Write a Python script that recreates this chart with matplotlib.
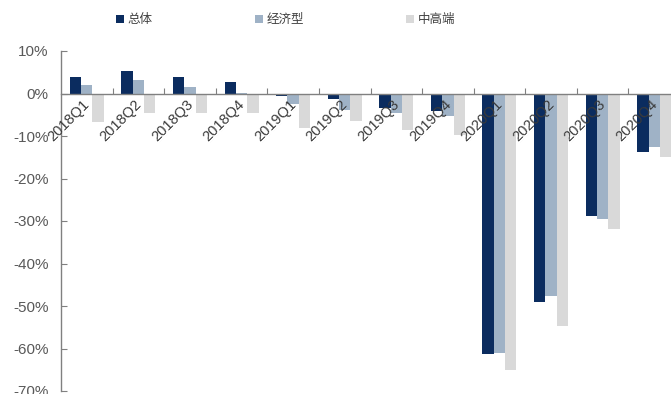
import matplotlib
matplotlib.use("Agg")
import matplotlib.pyplot as plt
import numpy as np
from matplotlib.ticker import FuncFormatter, FixedLocator

plt.rcParams['font.family'] = ['Liberation Sans', 'Noto Sans CJK SC', 'DejaVu Sans']

# quarterly growth, %
quarters = ["2018Q1", "2018Q2", "2018Q3", "2018Q4",
            "2019Q1", "2019Q2", "2019Q3", "2019Q4",
            "2020Q1", "2020Q2", "2020Q3", "2020Q4"]
total    = [4.0, 5.4, 4.0, 2.6, -0.6, -1.4, -3.5, -4.2, -61.3, -49.1, -28.8, -13.7]
economy  = [2.1, 3.1, 1.6, 0.2, -2.4, -3.8, -4.5, -5.4, -61.0, -47.6, -29.5, -12.7]
midhigh  = [-6.6, -4.7, -4.5, -4.7, -8.0, -6.5, -8.5, -9.7, -65.0, -54.7, -31.8, -15.0]

series_names = ["总体", "经济型", "中高端"]
colors = ["#0b2c5f", "#9fb2c6", "#d9d9d9"]

fig = plt.figure(figsize=(6.71, 3.94), dpi=100)
# axes run a bit past the right edge, so the last group is clipped
ax = fig.add_axes([61 / 671, 3 / 394, 619 / 671, 340 / 394])

x = np.arange(len(quarters))
w = 0.22
for vals, off, c, name in zip([total, economy, midhigh], [-w, 0, w], colors, series_names):
    ax.bar(x + off, vals, width=w, color=c, label=name, zorder=3)

ax.set_xlim(-0.5, len(quarters) - 0.5)
ax.set_ylim(-70, 10)
ax.set_yticks(np.arange(-70, 11, 10))
ax.yaxis.set_major_formatter(FuncFormatter(lambda v, p: f"{v:.0f}%"))

ax.spines['top'].set_visible(False)
ax.spines['right'].set_visible(False)
ax.spines['bottom'].set_position(('data', 0))
for s in ('left', 'bottom'):
    ax.spines[s].set_color('#808080')
    ax.spines[s].set_linewidth(1.0)
    ax.spines[s].set_zorder(4)

ax.tick_params(axis='y', direction='in', length=4, color='#808080',
               labelsize=11, labelcolor='#595959', pad=9)
ax.xaxis.set_major_locator(FixedLocator(x[1:] - 0.5))
ax.tick_params(axis='x', direction='in', length=4, color='#808080', labelbottom=False)

# category labels hang from the zero line, over the bars
for xi, q in zip(x, quarters):
    ax.text(xi - 0.08, -0.8, q, rotation=45, ha='right', va='top',
            fontsize=10.5, color='#3a3a3a', rotation_mode='anchor', zorder=5)

leg = fig.legend(loc='upper center', bbox_to_anchor=(0.426, 0.995), ncol=3, frameon=False,
                 handlelength=0.6, handleheight=0.6, handletextpad=0.3,
                 columnspacing=8.2, prop={'family': ['Noto Sans CJK SC'], 'size': 9})
for t in leg.get_texts():
    t.set_color('#404040')

fig.savefig("out.png", dpi=100)
